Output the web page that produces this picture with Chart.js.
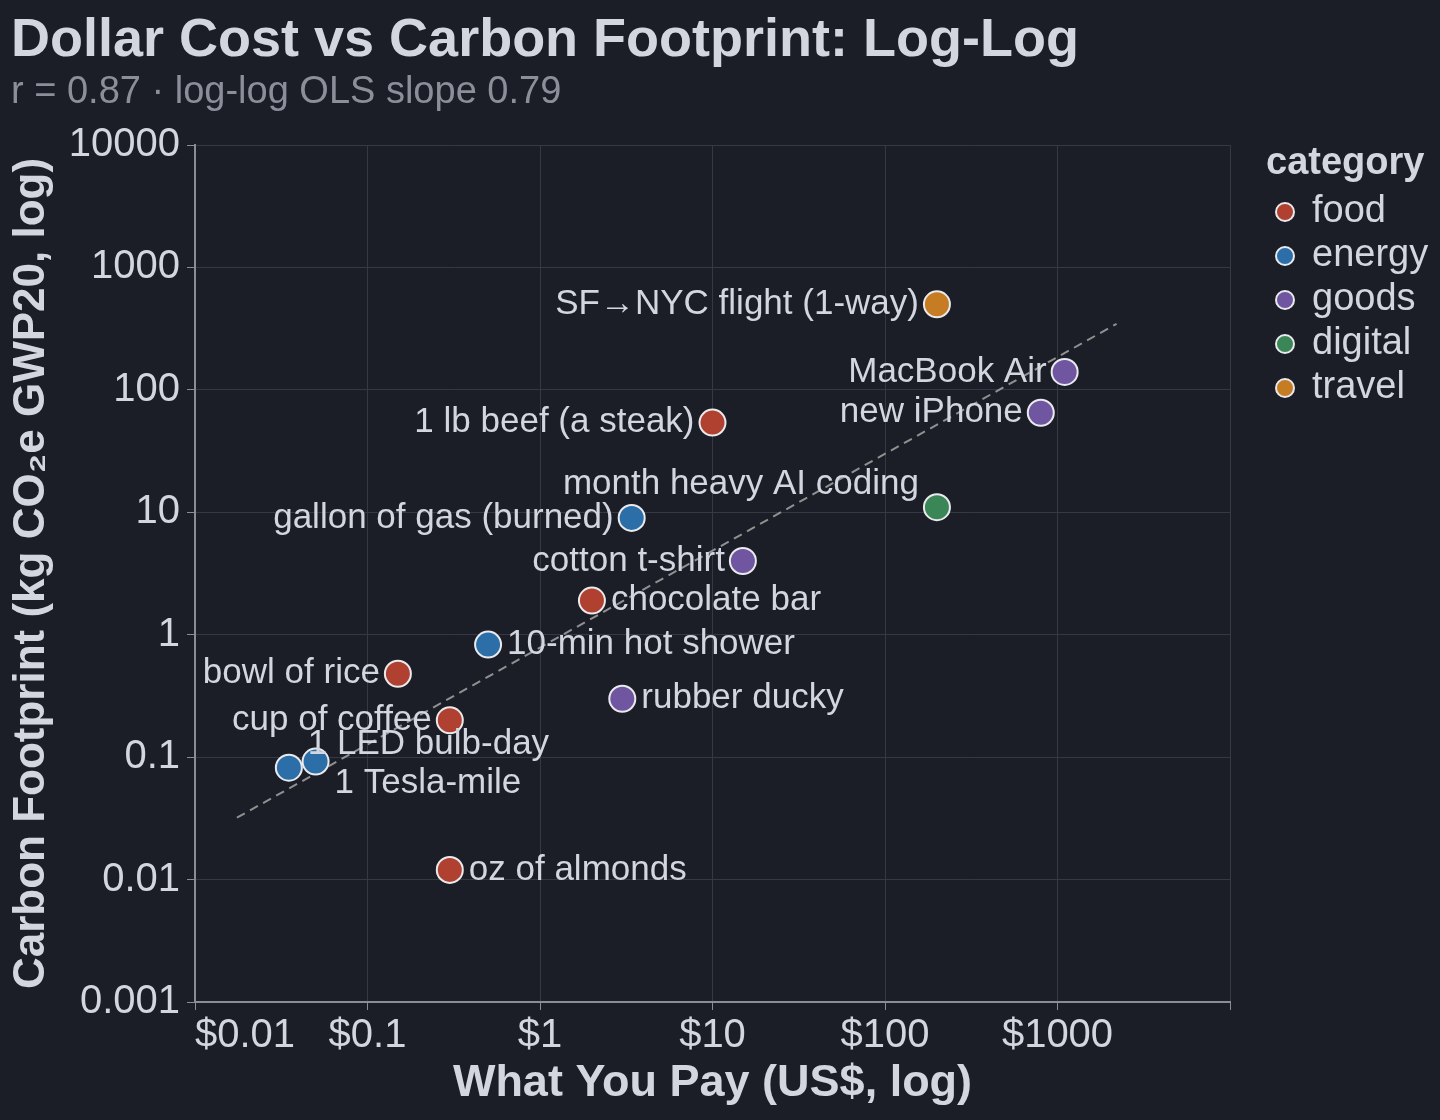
<!DOCTYPE html>
<html>
<head>
<meta charset="utf-8">
<title>Dollar Cost vs Carbon Footprint: Log-Log</title>
<script src="https://cdn.jsdelivr.net/npm/chart.js@4.4.1/dist/chart.umd.min.js"></script>
<style>
  html, body { margin: 0; padding: 0; background: #1b1e26; }
  #wrap { width: 1440px; height: 1120px; }
</style>
</head>
<body>
<div id="wrap"><canvas id="carbonChart" width="1440" height="1120"></canvas></div>
<script>
// Data (log-log, dollars vs kg CO2e GWP20)
const categories = ["food", "energy", "goods", "digital", "travel"];

const itemNames = [
  "SF→NYC flight (1-way)", "MacBook Air", "new iPhone", "1 lb beef (a steak)",
  "month heavy AI coding", "gallon of gas (burned)", "cotton t-shirt", "chocolate bar",
  "10-min hot shower", "bowl of rice", "rubber ducky", "cup of coffee",
  "1 LED bulb-day", "1 Tesla-mile", "oz of almonds",
];
const itemCategory = [
  "travel", "goods", "goods", "food",
  "digital", "energy", "goods", "food",
  "energy", "food", "goods", "food",
  "energy", "energy", "food",
];
const itemCost = [200, 1100, 800, 10, 200, 3.4, 15, 2, 0.5, 0.15, 3, 0.3, 0.035, 0.05, 0.3];
const itemFootprint = [500, 140, 65, 54, 11, 9, 4, 1.9, 0.83, 0.48, 0.3, 0.2, 0.082, 0.092, 0.012];

// OLS fit line end points (slope 0.79)
const fitCost = [0.0175, 2200];
const fitFootprint = [0.032, 346];

const xTicks = [0.01, 0.1, 1, 10, 100, 1000, 10000];
const xTickLabels = ["$0.01", "$0.1", "$1", "$10", "$100", "$1000", ""];
const yTicks = [0.001, 0.01, 0.1, 1, 10, 100, 1000, 10000];
const yTickLabels = ["0.001", "0.01", "0.1", "1", "10", "100", "1000", "10000"];

// styling
const categoryColors = {
  food: "#b04030",
  energy: "#2c6ea8",
  goods: "#7056a0",
  digital: "#3a8656",
  travel: "#c67c22",
};
// where each point label sits relative to its point
const labelSide = [
  "left", "left", "left", "left",
  "topleft", "left", "left", "right",
  "right", "left", "right", "left",
  "topright", "bottomright", "right",
];

const FONT = "'Liberation Sans', Arial, Helvetica, sans-serif";
const textColor = "#d3d6de";
const subColor = "#8b8f99";
const gridColor = "#363944";
const axisColor = "#8a8d97";

Chart.defaults.font.family = FONT;
Chart.defaults.color = textColor;

function buildDatasets() {
  const sets = [
    {
      label: "fit",
      data: fitCost.map((x, k) => ({ x, y: fitFootprint[k] })),
      showLine: true,
      borderColor: "rgba(165, 165, 165, 0.85)",
      borderWidth: 2,
      borderDash: [9, 6],
      pointRadius: 0,
      order: 10,
    },
  ];
  categories.forEach((cat) => {
    const points = [];
    itemNames.forEach((name, i) => {
      if (itemCategory[i] === cat) points.push({ x: itemCost[i], y: itemFootprint[i], idx: i });
    });
    sets.push({
      label: cat,
      data: points,
      backgroundColor: categoryColors[cat],
      borderColor: "#e9eaee",
      borderWidth: 2,
      pointRadius: 13,
      pointHoverRadius: 13,
      order: 1,
    });
  });
  return sets;
}

const decorations = {
  id: "decorations",
  afterDatasetsDraw(chart) {
    const ctx = chart.ctx;
    ctx.save();
    ctx.font = `35px ${FONT}`;
    ctx.fillStyle = textColor;
    ctx.textBaseline = "middle";
    chart.data.datasets.forEach((ds, di) => {
      if (ds.label === "fit") return;
      const meta = chart.getDatasetMeta(di);
      meta.data.forEach((el, j) => {
        const i = ds.data[j].idx;
        const side = labelSide[i];
        let x = el.x;
        let y = el.y;
        if (side.includes("left")) {
          ctx.textAlign = "right";
          x -= 18;
        } else {
          ctx.textAlign = "left";
          x += 19;
        }
        if (side.startsWith("top")) y -= 23;
        if (side.startsWith("bottom")) y += 22;
        ctx.fillText(itemNames[i], x, y);
      });
    });
    ctx.restore();
  },
  afterDraw(chart) {
    const ctx = chart.ctx;
    ctx.save();
    // title + subtitle
    ctx.textAlign = "left";
    ctx.textBaseline = "alphabetic";
    ctx.fillStyle = textColor;
    ctx.font = `bold 54px ${FONT}`;
    ctx.fillText("Dollar Cost vs Carbon Footprint: Log-Log", 11, 56);
    ctx.fillStyle = subColor;
    ctx.font = `38px ${FONT}`;
    ctx.fillText("r = 0.87 · log-log OLS slope 0.79", 11, 103);

    // first x tick label sits flush with the axis start
    const xs = chart.scales.x;
    ctx.fillStyle = textColor;
    ctx.font = `40px ${FONT}`;
    ctx.textBaseline = "middle";
    ctx.fillText(xTickLabels[0], xs.getPixelForValue(xTicks[0]), xs.top + 8 + 2 + 40 * 0.6);

    // legend
    ctx.textBaseline = "alphabetic";
    ctx.font = `bold 38px ${FONT}`;
    ctx.fillText("category", 1266, 174);
    ctx.font = `38px ${FONT}`;
    categories.forEach((cat, k) => {
      const cy = 212 + k * 44;
      ctx.beginPath();
      ctx.arc(1285, cy, 9, 0, Math.PI * 2);
      ctx.fillStyle = categoryColors[cat];
      ctx.fill();
      ctx.lineWidth = 2;
      ctx.strokeStyle = "#e9eaee";
      ctx.stroke();
      ctx.fillStyle = textColor;
      ctx.fillText(cat, 1312, cy + 10);
    });
    ctx.restore();
  },
};

new Chart(document.getElementById("carbonChart"), {
  type: "scatter",
  data: { datasets: buildDatasets() },
  options: {
    responsive: false,
    devicePixelRatio: 1,
    animation: false,
    events: [],
    layout: { padding: { top: 145, right: 210, bottom: 0, left: 0 } },
    plugins: {
      legend: { display: false },
      tooltip: { enabled: false },
      title: { display: false },
    },
    scales: {
      x: {
        type: "logarithmic",
        position: "bottom",
        min: 0.01,
        max: 10000,
        afterBuildTicks: (scale) => {
          scale.ticks = xTicks.map((v) => ({ value: v }));
        },
        afterFit: (scale) => {
          scale.height = 118;
        },
        ticks: {
          autoSkip: false,
          maxRotation: 0,
          padding: 2,
          font: { size: 40 },
          color: (c) => (c.index === 0 ? "rgba(0,0,0,0)" : textColor),
          callback: (value, index) => xTickLabels[index],
        },
        grid: { color: gridColor, tickColor: axisColor, tickLength: 8, lineWidth: 1 },
        border: { color: axisColor, width: 2 },
        title: {
          display: true,
          text: "What You Pay (US$, log)",
          color: textColor,
          font: { size: 45, weight: "bold" },
          padding: { top: 0, bottom: 9 },
        },
      },
      y: {
        type: "logarithmic",
        position: "left",
        min: 0.001,
        max: 10000,
        afterBuildTicks: (scale) => {
          scale.ticks = yTicks.map((v) => ({ value: v }));
        },
        afterFit: (scale) => {
          scale.width = 195;
        },
        ticks: {
          autoSkip: false,
          padding: 7,
          font: { size: 40 },
          color: textColor,
          callback: (value, index) => yTickLabels[index],
        },
        grid: { color: gridColor, tickColor: axisColor, tickLength: 8, lineWidth: 1 },
        border: { color: axisColor, width: 2 },
        title: {
          display: true,
          text: "Carbon Footprint (kg CO₂e GWP20, log)",
          color: textColor,
          font: { size: 44, weight: "bold" },
          padding: { top: 5, bottom: 0 },
        },
      },
    },
  },
  plugins: [decorations],
});
</script>
</body>
</html>
